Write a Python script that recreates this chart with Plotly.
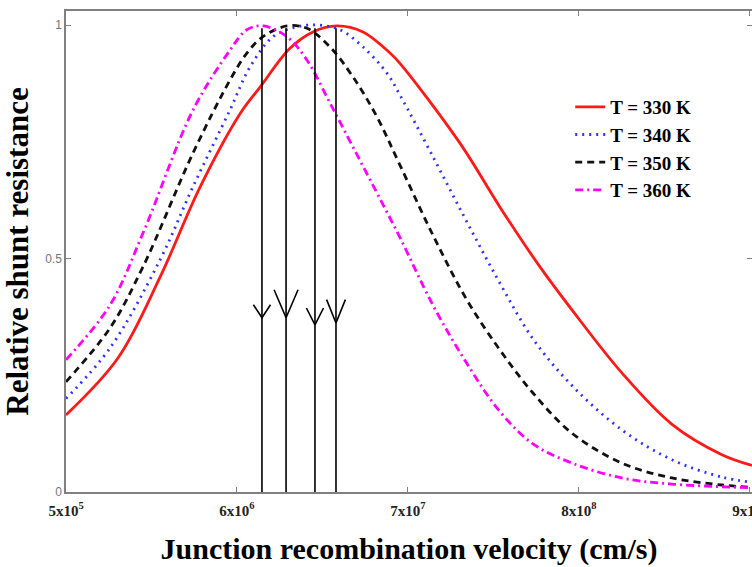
import plotly.graph_objects as go

# x in tick units: 0 -> 5x10^5, 1 -> 6x10^6, 2 -> 7x10^7, 3 -> 8x10^8, 4 -> 9x10^9
tick_vals = [0, 1, 2, 3, 4]
tick_text = ["5x10<sup>5</sup>", "6x10<sup>6</sup>", "7x10<sup>7</sup>",
             "8x10<sup>8</sup>", "9x10<sup>9</sup>"]

x_330 = [0, 0.304, 0.550, 0.784, 1.018, 1.135, 1.310, 1.444, 1.585, 1.737, 1.895,
         1.953, 2.304, 2.538, 2.772, 2.959, 3.251, 3.544, 3.836, 4.012]
y_330 = [0.165, 0.287, 0.46, 0.653, 0.81, 0.867, 0.95, 0.985, 0.998, 0.985, 0.94,
         0.918, 0.747, 0.61, 0.482, 0.39, 0.255, 0.145, 0.08, 0.057]

x_340 = [0, 0.257, 0.550, 0.743, 0.959, 1.076, 1.211, 1.351, 1.468, 1.602, 1.737,
         1.877, 1.953, 2.146, 2.345, 2.538, 2.731, 2.959, 3.251, 3.544, 3.836, 4.012]
y_340 = [0.20, 0.308, 0.497, 0.654, 0.818, 0.91, 0.975, 0.996, 1.0, 0.99, 0.953,
         0.897, 0.85, 0.718, 0.578, 0.447, 0.328, 0.228, 0.133, 0.069, 0.032, 0.021]

x_350 = [0, 0.257, 0.450, 0.743, 0.959, 1.058, 1.152, 1.292, 1.409, 1.544, 1.678,
         1.819, 1.953, 2.146, 2.345, 2.538, 2.731, 2.959, 3.251, 3.544, 3.836, 4.012]
y_350 = [0.236, 0.351, 0.482, 0.726, 0.882, 0.94, 0.975, 0.998, 0.993, 0.953, 0.889,
         0.803, 0.70, 0.55, 0.411, 0.304, 0.212, 0.126, 0.062, 0.03, 0.015, 0.01]

x_360 = [0, 0.257, 0.450, 0.743, 0.959, 1.058, 1.152, 1.292, 1.409, 1.544, 1.678,
         1.819, 1.953, 2.146, 2.345, 2.538, 2.731, 2.959, 3.251, 3.544, 4.012]
y_360 = [0.283, 0.40, 0.554, 0.818, 0.946, 0.99, 0.998, 0.975, 0.925, 0.833, 0.739,
         0.64, 0.545, 0.40, 0.275, 0.172, 0.103, 0.062, 0.03, 0.017, 0.009]

labels = ["T = 330 K", "T = 340 K", "T = 350 K", "T = 360 K"]

# arrows marking the maxima
arrow_x = [1.146, 1.287, 1.456, 1.579]
arrow_tip = [0.373, 0.373, 0.358, 0.362]
arrow_top = 0.993
arm_dx = [0.05, 0.07, 0.05, 0.055]
arm_dy = [0.028, 0.06, 0.036, 0.05]

serif = "Liberation Serif, Times New Roman, serif"

fig = go.Figure()

series = [
    (x_330, y_330, labels[0], "#ff1a1a", "solid"),
    (x_340, y_340, labels[1], "#3333ff", "2px,5px"),
    (x_350, y_350, labels[2], "#111111", "7px,5px"),
    (x_360, y_360, labels[3], "#ff00ff", "8px,4px,2px,4px"),
]
for i, (xs, ys, name, col, dash) in enumerate(series):
    fig.add_trace(go.Scatter(
        x=xs, y=ys, mode="lines", name=name, legendgroup=str(i),
        line=dict(color=col, width=2.8, dash=dash, shape="spline", smoothing=1.0),
    ))

# arrow lines
ax_x, ax_y = [], []
for xa, tip, dx, dy in zip(arrow_x, arrow_tip, arm_dx, arm_dy):
    ax_x += [xa, xa, None, xa - dx, xa, xa + dx, None]
    ax_y += [0, arrow_top, None, tip + dy, tip, tip + dy, None]
fig.add_trace(go.Scatter(x=ax_x, y=ax_y, mode="lines", showlegend=False,
                         line=dict(color="black", width=1.6), hoverinfo="skip"))

fig.update_layout(
    width=752, height=567,
    margin=dict(l=66, r=0, t=11, b=75),
    paper_bgcolor="white", plot_bgcolor="white",
    showlegend=True,
    legend=dict(x=0.735, y=0.84, xanchor="left", yanchor="top",
                bgcolor="rgba(0,0,0,0)", itemwidth=30, tracegroupgap=0,
                traceorder="grouped",
                font=dict(family=serif, size=19, color="black", weight="bold")),
    xaxis=dict(
        range=[0, 4.012], tickvals=tick_vals, ticktext=tick_text,
        showgrid=False, zeroline=False,
        showline=True, linecolor="#808080", linewidth=1.5, mirror="allticks",
        ticks="inside", ticklen=5, tickcolor="#808080",
        ticklabeloverflow="allow", ticklabelstandoff=4,
        tickfont=dict(family=serif, size=15, color="#222222", weight="bold"),
        automargin=False,
        title=dict(text="<b>Junction recombination velocity (cm/s)</b>",
                   font=dict(family=serif, size=30, color="black"), standoff=20),
    ),
    yaxis=dict(
        range=[0, 1.03], tickvals=[0, 0.5, 1], ticktext=["0", "0.5", "1"],
        showgrid=False, zeroline=False,
        showline=True, linecolor="#808080", linewidth=1.5, mirror="allticks",
        ticks="inside", ticklen=5, tickcolor="#808080",
        tickfont=dict(family="Liberation Sans, Arial, sans-serif", size=12, color="#6b7785"),
        automargin=False,
        title=dict(text="<b>Relative shunt resistance</b>",
                   font=dict(family=serif, size=31, color="black"), standoff=8),
    ),
)

fig.write_html("out.html")
